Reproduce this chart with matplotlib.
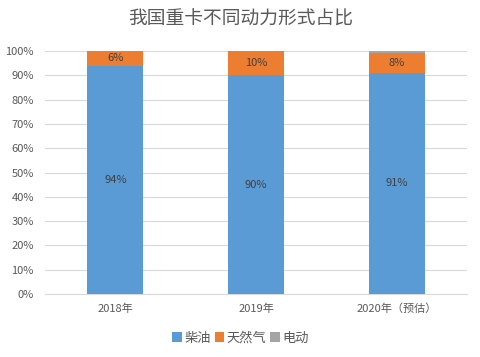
import matplotlib.pyplot as plt
import numpy as np

plt.rcParams['font.family'] = ['Noto Sans CJK SC', 'DejaVu Sans']

categories = ['2018年', '2019年', '2020年（预估）']
diesel = [94, 90, 91]
gas = [6, 10, 8]
electric = [0, 0, 1]
series_names = ['柴油', '天然气', '电动']
colors = ['#5B9BD5', '#ED7D31', '#A5A5A5']
text_color = '#595959'

fig = plt.figure(figsize=(4.81, 3.57), dpi=100)
ax = fig.add_axes([0.0936, 0.1765, 0.8774, 0.6805])

x = np.arange(len(categories))
width = 0.4
bottom = np.zeros(len(categories))
for vals, name, c in zip([diesel, gas, electric], series_names, colors):
    ax.bar(x, vals, width, bottom=bottom, color=c, label=name, zorder=3)
    bottom += np.array(vals)

# data labels for diesel and gas
for i in range(len(categories)):
    ax.text(x[i], diesel[i] / 2, f'{diesel[i]}%', ha='center', va='center',
            fontsize=8, color='#404040', zorder=4)
    ax.text(x[i], diesel[i] + gas[i] / 2, f'{gas[i]}%', ha='center', va='center',
            fontsize=8, color='#404040', zorder=4)

ax.set_xlim(-0.5, 2.5)
ax.set_ylim(0, 100)
ax.set_yticks(np.arange(0, 101, 10))
ax.set_yticklabels([f'{v}%' for v in range(0, 101, 10)])
ax.set_xticks(x)
ax.set_xticklabels(categories)
ax.tick_params(axis='both', length=0, labelsize=8, colors=text_color)
ax.tick_params(axis='x', pad=7)
ax.tick_params(axis='y', pad=8)
ax.grid(axis='y', color='#D9D9D9', linewidth=0.8, zorder=0)
for s in ['top', 'right', 'left']:
    ax.spines[s].set_visible(False)
ax.spines['bottom'].set_color('#D9D9D9')

fig.text(0.5, 0.945, '我国重卡不同动力形式占比', ha='center', va='center',
         fontsize=13.5, color=text_color)

handles, labels = ax.get_legend_handles_labels()
fig.legend(handles, labels, loc='center', bbox_to_anchor=(0.5, 0.053), ncol=3,
           frameon=False, fontsize=9.5, handlelength=0.7, handleheight=0.7,
           handletextpad=0.2, columnspacing=0.3, labelcolor=text_color)

fig.savefig('out.png', dpi=100)
